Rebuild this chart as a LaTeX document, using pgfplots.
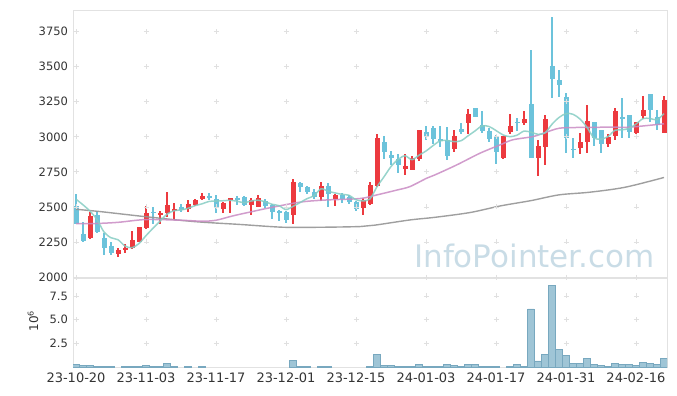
\documentclass[border=0pt]{standalone}
\usepackage{fontspec}
\setmainfont{DejaVu Sans}
\usepackage{pgfplots}
\usepackage{pgfplotstable}
\pgfplotsset{compat=1.18}
\definecolor{cRed}{HTML}{EC3A3F}
\definecolor{cBlue}{HTML}{6CC3DB}
\definecolor{cTeal}{HTML}{86CDC3}
\definecolor{cPink}{HTML}{C98BC3}
\definecolor{cGray}{HTML}{959595}
\definecolor{cVolF}{HTML}{9FC5D6}
\definecolor{cVolD}{HTML}{78A8BF}
\definecolor{cGrid}{HTML}{E0E0E0}
\definecolor{cAxis}{HTML}{E2E2E2}
\definecolor{cText}{HTML}{333333}
\definecolor{cWM}{HTML}{C9DCE6}

\pgfplotstableread{
i o h l c
2 2276 2466 2270 2436
6 2167 2207 2143 2190
7 2190 2236 2169 2210
8 2205 2329 2200 2264
9 2252 2360 2250 2357
10 2352 2509 2345 2455
12 2448 2470 2379 2457
13 2455 2605 2429 2514
14 2471 2530 2410 2486
16 2483 2550 2462 2519
17 2514 2560 2505 2550
18 2557 2598 2550 2581
21 2488 2535 2460 2531
22 2550 2562 2460 2562
25 2514 2564 2440 2548
26 2502 2586 2500 2562
31 2445 2700 2379 2675
35 2569 2675 2545 2650
37 2555 2590 2510 2588
41 2490 2565 2445 2550
42 2519 2675 2515 2657
43 2652 3017 2640 2990
47 2771 2875 2725 2793
48 2766 2860 2760 2850
49 2842 3050 2830 3050
54 2910 3050 2890 3007
56 3102 3200 3020 3164
61 2852 3009 2845 3007
62 3031 3164 3020 3079
64 3102 3186 3081 3129
66 2852 2979 2721 2932
67 2931 3157 2800 3129
72 2917 3024 2881 2960
73 2960 3229 2886 3114
76 2948 3020 2930 2998
77 3007 3205 2980 3186
80 3026 3105 3020 3105
81 3150 3293 3129 3193
84 3026 3293 3026 3260
}\up

\pgfplotstableread{
i o h l c
0 2507 2590 2375 2379
1 2305 2390 2250 2260
3 2443 2471 2317 2324
4 2281 2316 2157 2205
5 2221 2252 2157 2174
11 2466 2502 2379 2455
15 2498 2519 2467 2476
19 2579 2598 2550 2569
20 2557 2586 2455 2490
23 2562 2581 2514 2552
24 2569 2575 2505 2514
27 2543 2555 2490 2507
28 2514 2520 2414 2466
29 2471 2475 2398 2461
30 2467 2470 2386 2407
32 2672 2675 2610 2645
33 2643 2650 2590 2604
34 2610 2625 2560 2569
36 2650 2669 2500 2590
38 2586 2600 2530 2555
39 2572 2585 2520 2533
40 2536 2540 2470 2488
44 2965 3005 2845 2889
45 2871 2900 2800 2852
46 2845 2880 2740 2800
50 3031 3080 2980 3002
51 3062 3075 2950 2988
52 2984 3075 2926 2967
53 2979 3070 2833 2865
55 3055 3100 3020 3031
57 3205 3205 3140 3145
58 3086 3185 3030 3045
59 3045 3060 2960 2983
60 3000 3010 2805 2890
63 3108 3136 3040 3098
65 3236 3621 2848 2848
68 3507 3852 3276 3412
69 3407 3479 3286 3367
70 3281 3312 2886 2990
71 2915 2995 2848 2905
74 3105 3105 2936 2990
75 3050 3050 2886 2948
78 3138 3279 2993 3128
79 3157 3157 2990 3038
82 3307 3307 3105 3188
83 3140 3190 3050 3086
}\down

\pgfplotstableread{
i v
0 2555
1 2515
2 2470
3 2410
4 2321
5 2280
6 2266
7 2221
8 2209
9 2239
10 2295
11 2348
12 2398
13 2448
14 2473
15 2478
16 2490
17 2509
18 2522
19 2539
20 2542
21 2544
22 2547
23 2541
24 2530
25 2542
26 2548
27 2537
28 2519
29 2509
30 2481
31 2504
32 2531
33 2559
34 2580
35 2629
36 2612
37 2600
38 2590
39 2583
40 2551
41 2543
42 2557
43 2644
44 2715
45 2788
46 2838
47 2865
48 2837
49 2869
50 2899
51 2937
52 2971
53 2974
54 2966
55 2972
56 3007
57 3042
58 3078
59 3074
60 3045
61 3014
62 3001
63 3012
64 3041
65 3033
66 3018
67 3028
68 3090
69 3138
70 3166
71 3161
72 3127
73 3068
74 2992
75 2984
76 3002
77 3047
78 3050
79 3060
80 3091
81 3130
82 3131
83 3122
84 3166
}\maA

\pgfplotstableread{
i v
0 2380
3 2382
6 2390
10 2410
15 2405
18 2398
20 2405
22.4 2436
25 2465
27.3 2490
31 2526
33 2540
35.9 2550
40.6 2560
43 2586
45.9 2621
47.7 2645
50.1 2705
51.3 2729
54.4 2800
57.7 2883
60.6 2943
62.4 2979
65.3 3002
67 3030
69.1 3062
72 3067
76.7 3069
79.1 3069
84 3093
}\maB

\pgfplotstableread{
i v
0 2483
3.4 2467
10 2430
17 2395
23.4 2375
29.6 2355
35 2355
40.6 2360
42.7 2370
47.7 2407
51.3 2426
56.3 2460
60.6 2507
65 2545
69 2586
73.4 2605
78.4 2640
84 2710
}\maC

\pgfplotstableread{
i v
0 0.29
1 0.18
2 0.18
3 0.07
4 0.07
5 0.07
7 0.07
8 0.07
9 0.07
10 0.18
11 0.07
12 0.07
13 0.39
14 0.07
16 0.07
18 0.07
31 0.71
32 0.07
33 0.07
35 0.07
36 0.07
42 0.07
43 1.35
44 0.18
45 0.18
46 0.07
47 0.07
48 0.07
49 0.29
50 0.07
51 0.07
52 0.07
53 0.29
54 0.18
55 0.07
56 0.29
57 0.29
58 0.07
59 0.07
60 0.07
62 0.07
63 0.29
64 0.07
65 6.14
66 0.64
67 1.35
68 8.60
69 1.88
70 1.24
71 0.39
72 0.39
73 0.92
74 0.29
75 0.18
76 0.07
77 0.39
78 0.29
79 0.29
80 0.18
81 0.50
82 0.39
83 0.29
84 0.92
}\vol

\begin{document}
\begin{tikzpicture}
\path[use as bounding box] (0pt,0pt) rectangle (677pt,-396pt);
\begin{axis}[
  at={(73pt,-10pt)}, anchor=north west,
  scale only axis, width=594pt, height=267pt,
  xmin=-0.43, xmax=84.43, ymin=2000, ymax=3905,
  axis line style={cAxis},
  xtick=\empty,
  ytick={2000,2250,2500,2750,3000,3250,3500,3750},
  major tick length=0pt,
  yticklabel style={font=\fontsize{11.5}{12}\selectfont, text=cText, xshift=-1.5pt},
  /pgf/number format/set thousands separator={},
  /pgf/number format/assume math mode=true,
  clip=false,
]
\addplot[only marks, mark=+, mark size=2.5pt, cGrid, line width=0.8pt] coordinates {
(0,2000)(10,2000)(20,2000)(30,2000)(40,2000)(50,2000)(60,2000)(70,2000)(80,2000)
(0,2250)(10,2250)(20,2250)(30,2250)(40,2250)(50,2250)(60,2250)(70,2250)(80,2250)
(0,2500)(10,2500)(20,2500)(30,2500)(40,2500)(50,2500)(60,2500)(70,2500)(80,2500)
(0,2750)(10,2750)(20,2750)(30,2750)(40,2750)(50,2750)(60,2750)(70,2750)(80,2750)
(0,3000)(10,3000)(20,3000)(30,3000)(40,3000)(50,3000)(60,3000)(70,3000)(80,3000)
(0,3250)(10,3250)(20,3250)(30,3250)(40,3250)(50,3250)(60,3250)(70,3250)(80,3250)
(0,3500)(10,3500)(20,3500)(30,3500)(40,3500)(50,3500)(60,3500)(70,3500)(80,3500)
(0,3750)(10,3750)(20,3750)(30,3750)(40,3750)(50,3750)(60,3750)(70,3750)(80,3750)
};
% wicks
\addplot[draw=none, mark=none, error bars/.cd, y dir=both, y explicit, error mark=none,
  error bar style={line width=1.1pt, draw=cRed}]
  table[x=i, y expr={(\thisrow{h}+\thisrow{l})/2}, y error expr={(\thisrow{h}-\thisrow{l})/2}] {\up};
\addplot[draw=none, mark=none, error bars/.cd, y dir=both, y explicit, error mark=none,
  error bar style={line width=1.1pt, draw=cBlue}]
  table[x=i, y expr={(\thisrow{h}+\thisrow{l})/2}, y error expr={(\thisrow{h}-\thisrow{l})/2}] {\down};
% bodies
\addplot[draw=none, mark=none, error bars/.cd, y dir=both, y explicit, error mark=none,
  error bar style={line width=5pt, draw=cRed}]
  table[x=i, y expr={(\thisrow{o}+\thisrow{c})/2}, y error expr={max(abs(\thisrow{o}-\thisrow{c})/2,6)}] {\up};
\addplot[draw=none, mark=none, error bars/.cd, y dir=both, y explicit, error mark=none,
  error bar style={line width=5pt, draw=cBlue}]
  table[x=i, y expr={(\thisrow{o}+\thisrow{c})/2}, y error expr={max(abs(\thisrow{o}-\thisrow{c})/2,6)}] {\down};
% moving averages
\addplot[cGray, line width=1.4pt, smooth, mark=none, opacity=0.9] table[x=i, y=v] {\maC};
\addplot[cPink, line width=1.5pt, smooth, mark=none, opacity=0.85] table[x=i, y=v] {\maB};
\addplot[cTeal, line width=1.5pt, smooth, mark=none, opacity=0.85] table[x=i, y=v] {\maA};
\end{axis}

\node[anchor=base west, text=cWM, font=\fontsize{31}{31}\selectfont, inner sep=0pt] at (414pt,-267pt) {InfoPointer.com};

\begin{axis}[
  at={(73pt,-278pt)}, anchor=north west,
  scale only axis, width=594pt, height=89pt,
  xmin=-0.43, xmax=84.43, ymin=0, ymax=9.4,
  axis line style={cAxis},
  xtick={0,10,20,30,40,50,60,70,80},
  xticklabels={23-10-20,23-11-03,23-11-17,23-12-01,23-12-15,24-01-03,24-01-17,24-01-31,24-02-16},
  ytick={2.5,5,7.5},
  yticklabels={2.5,5.0,7.5},
  major tick length=0pt,
  yticklabel style={font=\fontsize{11.5}{12}\selectfont, text=cText, xshift=-1.5pt},
  xticklabel style={font=\fontsize{13}{14}\selectfont, text=cText, yshift=-2pt},
]
\addplot[only marks, mark=+, mark size=2.5pt, cGrid, line width=0.8pt] coordinates {
(0,2.5)(10,2.5)(20,2.5)(30,2.5)(40,2.5)(50,2.5)(60,2.5)(70,2.5)(80,2.5)
(0,5)(10,5)(20,5)(30,5)(40,5)(50,5)(60,5)(70,5)(80,5)
(0,7.5)(10,7.5)(20,7.5)(30,7.5)(40,7.5)(50,7.5)(60,7.5)(70,7.5)(80,7.5)
};
\addplot[ybar, bar width=6.4pt, fill=cVolF, draw=cVolD, line width=0.7pt] table[x=i, y=v] {\vol};
\end{axis}
\node[rotate=90, text=cText, font=\fontsize{12}{12}\selectfont] at (33pt,-321pt) {10\textsuperscript{6}};
\end{tikzpicture}
\end{document}
